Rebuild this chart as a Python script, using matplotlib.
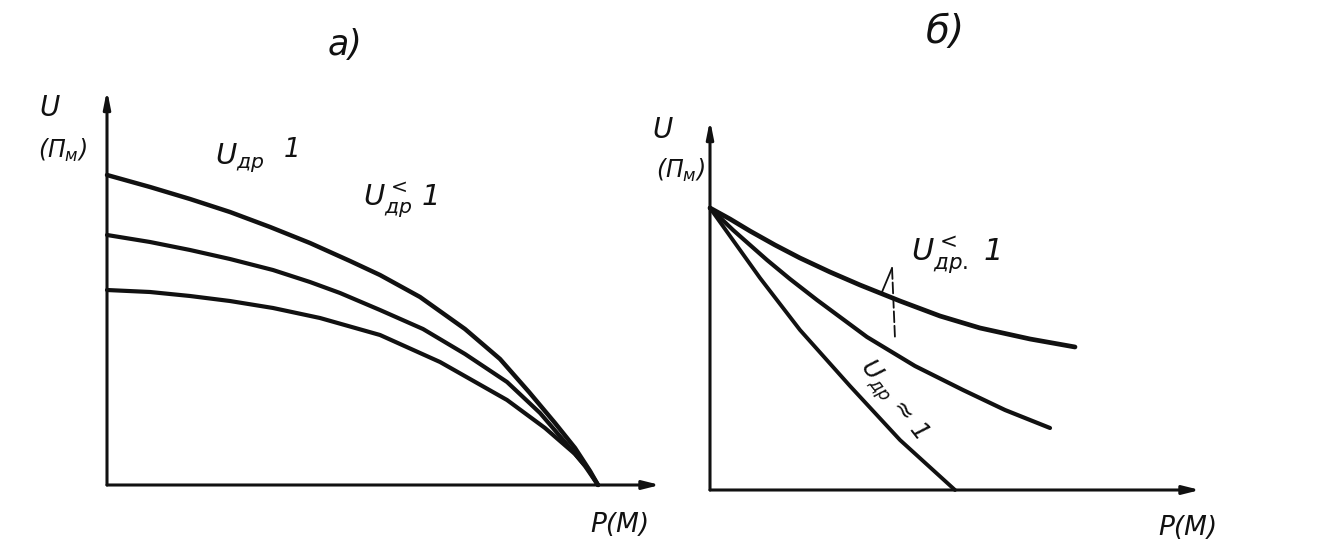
import numpy as np
import matplotlib.pyplot as plt

# panel a) : U (in П_м) vs P (in M), three curves meeting at P = 1
a_top_p = [0.0, 0.0876, 0.169, 0.2505, 0.332, 0.4134, 0.4949, 0.556, 0.6375, 0.7291,
           0.8004, 0.8595, 0.9124, 0.9532, 0.9837, 1.0]
a_top_u = [1.0, 0.9613, 0.9226, 0.8806, 0.8323, 0.7806, 0.7226, 0.6774, 0.6065, 0.5032,
           0.4065, 0.3, 0.2, 0.1194, 0.0452, 0.0]
a_mid_p = [0.0, 0.0876, 0.169, 0.2505, 0.3381, 0.4134, 0.4745, 0.556, 0.6436, 0.7291,
           0.8147, 0.8819, 0.945, 0.9735, 1.0]
a_mid_u = [0.8065, 0.7839, 0.7581, 0.729, 0.6935, 0.6548, 0.6194, 0.5645, 0.5032, 0.4226,
           0.3323, 0.2323, 0.1161, 0.0613, 0.0]
a_low_p = [0.0, 0.0876, 0.169, 0.2505, 0.3381, 0.4338, 0.556, 0.6782, 0.8147, 0.892,
           0.9532, 0.9796, 1.0]
a_low_u = [0.629, 0.6226, 0.6097, 0.5935, 0.571, 0.5387, 0.4839, 0.3968, 0.2742, 0.1839,
           0.1, 0.0516, 0.0]

# panel б) : three curves from a common point at U = 1
b_top_p = [0.0, 0.0816, 0.1633, 0.2653, 0.3673, 0.4898, 0.6122, 0.7755, 0.9388, 1.102, 1.3061, 1.4898]
b_top_u = [1.0, 0.961, 0.9184, 0.8688, 0.8227, 0.773, 0.727, 0.6702, 0.617, 0.5745, 0.5355, 0.5071]
b_mid_p = [0.0, 0.0939, 0.2327, 0.3265, 0.4367, 0.6408, 0.8367, 1.0327, 1.2041, 1.3878]
b_mid_u = [1.0, 0.922, 0.8156, 0.7482, 0.6738, 0.5426, 0.4397, 0.3546, 0.2837, 0.2199]
b_low_p = [0.0, 0.0816, 0.2041, 0.3673, 0.5714, 0.7755, 1.0]
b_low_u = [1.0, 0.9007, 0.7518, 0.5674, 0.3688, 0.1773, 0.0]

W, H = 1326, 558
fig = plt.figure(figsize=(W / 100, H / 100), dpi=100)
fig.patch.set_facecolor('white')

ink = '#111111'
fam = ['DejaVu Sans']


def axis_arrows(ax, xmax, ymax):
    ax.annotate('', xy=(xmax, 0), xytext=(0, 0),
                arrowprops=dict(arrowstyle='-|>,head_length=1.0,head_width=0.25',
                                lw=2.2, color=ink, shrinkA=0, shrinkB=0))
    ax.annotate('', xy=(0, ymax), xytext=(0, 0),
                arrowprops=dict(arrowstyle='-|>,head_length=1.0,head_width=0.2',
                                lw=2.2, color=ink, shrinkA=0, shrinkB=0))


def bare(ax):
    for s in ax.spines.values():
        s.set_visible(False)
    ax.set_xticks([])
    ax.set_yticks([])
    ax.patch.set_alpha(0)


### panel a)
ax1 = fig.add_axes([107 / W, (H - 485) / H, 558 / W, 400 / H])
ax1.set_xlim(0, 558 / 491)
ax1.set_ylim(0, 400 / 310)
bare(ax1)
axis_arrows(ax1, 553 / 491, 395 / 310)
for p, u, w in [(a_top_p, a_top_u, 3.2), (a_mid_p, a_mid_u, 3.0), (a_low_p, a_low_u, 3.0)]:
    ax1.plot(p, u, color=ink, lw=w, solid_capstyle='round', solid_joinstyle='round', clip_on=False)

### panel б)
ax2 = fig.add_axes([710 / W, (H - 490) / H, 495 / W, 375 / H])
ax2.set_xlim(0, 495 / 245)
ax2.set_ylim(0, 375 / 282)
bare(ax2)
axis_arrows(ax2, 490 / 245, 370 / 282)
for p, u, w in [(b_top_p, b_top_u, 3.4), (b_mid_p, b_mid_u, 3.0), (b_low_p, b_low_u, 2.8)]:
    ax2.plot(p, u, color=ink, lw=w, solid_capstyle='round', solid_joinstyle='round', clip_on=False)

# leader from the label to the curves
ax2.annotate('', xy=(0.702, 0.702), xytext=(0.743, 0.787),
             arrowprops=dict(arrowstyle='-', lw=1.3, color=ink, shrinkA=0, shrinkB=0))
ax2.annotate('', xy=(0.755, 0.539), xytext=(0.743, 0.787),
             arrowprops=dict(arrowstyle='-', lw=1.3, color=ink, shrinkA=0, shrinkB=0,
                             linestyle=(0, (6, 2))))

### texts
def ftext(x, y, s, size, **kw):
    fig.text(x / W, 1 - y / H, s, fontsize=size, style='italic', color=ink,
             ha='center', va='center', family=fam, **kw)


ftext(345, 45, 'а)', 25)
ftext(945, 32, 'б)', 28)

ftext(50, 108, 'U', 20)
ftext(62, 150, r'($\mathit{П}_\mathit{м}$)', 17)
ftext(240, 158, r'$U_{др}$', 21)
ftext(292, 150, '1', 19)
ftext(400, 200, r'$U_{др}^{<}$ 1', 21)
ftext(620, 525, 'Р(М)', 19)

ftext(663, 130, 'U', 20)
ftext(680, 170, r'($\mathit{П}_\mathit{м}$)', 17)
ftext(955, 255, r'$U_{др.}^{<}$ 1', 22)
ftext(892, 400, r'$U_{др}$ ≈ 1', 18, rotation=-52, rotation_mode='anchor')
ftext(1188, 528, 'Р(М)', 19)

fig.savefig('out.png', dpi=100, facecolor='white')
